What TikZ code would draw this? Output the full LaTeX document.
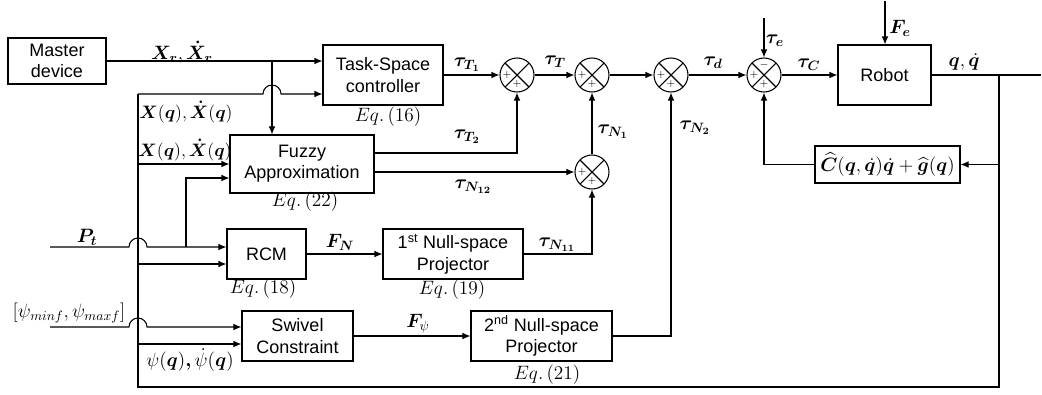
\RequirePackage{fix-cm}
\documentclass[tikz,border=0pt]{standalone}
\usepackage{amsmath}
\usepackage[no-math]{fontspec}
\setmainfont{Liberation Sans}
\usepackage{bm}
\usetikzlibrary{arrows.meta}

\begin{document}
\begin{tikzpicture}[x=0.75pt, y=-0.75pt, line width=0.8pt, font=\fontsize{13.5}{16}\selectfont,
    blk/.style={draw, align=center, inner sep=1pt},
    sum/.style={draw, circle, minimum size=25.5pt, inner sep=0pt,
        path picture={\draw (path picture bounding box.north west) -- (path picture bounding box.south east)
            (path picture bounding box.north east) -- (path picture bounding box.south west);}},
    sgn/.style={inner sep=0pt, font=\fontsize{7.5}{8}\selectfont},
    lbl/.style={inner sep=0pt, font=\fontsize{14.5}{17}\selectfont},
    arr/.style={-{Latex[length=6pt,width=5pt]}}]
    \useasboundingbox (0,0) rectangle (1042,394);

    % Draw the blocks
    \node[blk, minimum width=73.5pt, minimum height=34.5pt] (master) at (57,61) {Master\\device};
    \node[blk, minimum width=90pt, minimum height=45pt] (tsc) at (383,75) {Task-Space\\controller};
    \node[blk, minimum width=108pt, minimum height=43.5pt] (fuzzy) at (302,164) {Fuzzy\\Approximation};
    \node[blk, minimum width=59.25pt, minimum height=37.5pt] (rcm) at (266.5,254) {RCM};
    \node[blk, minimum width=105pt, minimum height=37.5pt] (nsp1) at (453,254) {1\textsuperscript{st} Null-space\\Projector};
    \node[blk, minimum width=83.25pt, minimum height=37.5pt] (swivel) at (297.5,336) {Swivel\\Constraint};
    \node[blk, minimum width=105.75pt, minimum height=37.5pt] (nsp2) at (541.5,336) {2\textsuperscript{nd} Null-space\\Projector};
    \node[blk, minimum width=69.75pt, minimum height=45pt] (robot) at (884.5,75) {Robot};
    \node[blk, minimum width=108.75pt, minimum height=27.75pt, font=\fontsize{14.5}{17}\selectfont] (comp) at (887.5,164.5) {$\widehat{\bm C}(\bm q,\dot{\bm q})\dot{\bm q}+\widehat{\bm g}(\bm q)$};

    % Equation references
    \node[lbl] (eq16) at (388,117) {$Eq.\,(16)$};
    \node[lbl] (eq22) at (305,202) {$Eq.\,(22)$};
    \node[lbl] (eq18) at (263,289) {$Eq.\,(18)$};
    \node[lbl] (eq19) at (452,290) {$Eq.\,(19)$};
    \node[lbl] (eq21) at (547,375) {$Eq.\,(21)$};

    % Draw the summing junctions
    \node[sum] (s1) at (517,75) {};
    \node[sum] (s2) at (592,75) {};
    \node[sum] (s3) at (592,172) {};
    \node[sum] (s4) at (671,75) {};
    \node[sum] (s5) at (764,75) {};

    \node[sgn] (s1l) at ([shift={(-10,0)}]s1.center) {$+$};
    \node[sgn] (s1b) at ([shift={(0,9)}]s1.center) {$+$};
    \node[sgn] (s2l) at ([shift={(-10,0)}]s2.center) {$+$};
    \node[sgn] (s2b) at ([shift={(0,9)}]s2.center) {$+$};
    \node[sgn] (s3l) at ([shift={(-10,0)}]s3.center) {$+$};
    \node[sgn] (s3b) at ([shift={(0,9)}]s3.center) {$+$};
    \node[sgn] (s4l) at ([shift={(-10,0)}]s4.center) {$+$};
    \node[sgn] (s4b) at ([shift={(0,9)}]s4.center) {$+$};
    \node[sgn] (s5l) at ([shift={(-10,0)}]s5.center) {$+$};
    \node[sgn] (s5b) at ([shift={(0,9)}]s5.center) {$+$};
    \node[sgn] (s5t) at ([shift={(0,-10)}]s5.center) {$-$};

    % Free ends and branch points
    \coordinate (jx) at (272,61);
    \coordinate (fb) at (138,94);
    \coordinate (j2) at (186,247);
    \coordinate (pt) at (50,247);
    \coordinate (psi) at (50,327);
    \coordinate (jq) at (999,75);
    \coordinate (te) at (764,18);
    \coordinate (fe) at (885,1);

    % Inputs to the task-space controller
    \draw[arr] (master.east) -- (master.east -| tsc.west);
    \draw[arr] (jx) -- (jx |- fuzzy.north);
    \draw[arr] (fb) -- (263,94) arc[start angle=180, end angle=0, radius=6.75pt] -- (fb -| tsc.west);

    % Feedback of the robot state
    \draw (jq) -- (jq |- 0,387) -| (fb);
    \draw[arr] (fb |- fuzzy.west) -- (fuzzy.west);
    \draw[arr] (j2) |- (fuzzy.west |- 0,178);
    \draw[arr] (pt) -- (129,247) arc[start angle=180, end angle=0, radius=6.75pt] -- (rcm.west |- pt);
    \draw[arr] (fb |- 0,264) -- (rcm.west |- 0,264);
    \draw[arr] (psi) -- (129,327) arc[start angle=180, end angle=0, radius=6.75pt] -- (swivel.west |- psi);
    \draw[arr] (fb |- 0,344) -- (swivel.west |- 0,344);

    % Null-space branches
    \draw[arr] (rcm.east) -- (nsp1.west);
    \draw[arr] (nsp1.east) -| (s3.south);
    \draw[arr] (swivel.east) -- (nsp2.west);
    \draw[arr] (nsp2.east) -| (s4.south);

    % Torque summation
    \draw[arr] (tsc.east) -- (s1.west);
    \draw[arr] (fuzzy.east |- 0,153) -| (s1.south);
    \draw[arr] (fuzzy.east |- s3.west) -- (s3.west);
    \draw[arr] (s1.east) -- (s2.west);
    \draw[arr] (s3.north) -- (s2.south);
    \draw[arr] (s2.east) -- (s4.west);
    \draw[arr] (s4.east) -- (s5.west);
    \draw[arr] (s5.east) -- (robot.west);
    \draw[arr] (te) -- (s5.north);
    \draw[arr] (fe) -- (fe |- robot.north);

    % Robot output and compensation loop
    \draw[line width=1.4pt] (robot.east) -- (1013,75);
    \draw (1013,75) -- (1041,75);
    \draw[arr] (jq) |- (comp.east);
    \draw[arr] (comp.west) -| (s5.south);

    % Signal labels
    \node[lbl] (Xr) at (182,52) {$\bm{X_r},\bm{\dot{X}_r}$};
    \node[lbl, font=\fontsize{13.5}{16}\selectfont] (Xq1) at (186,112) {$\bm{X}(\bm q),\bm{\dot{X}}(\bm q)$};
    \node[lbl, font=\fontsize{13.5}{16}\selectfont] (Xq2) at (185,150) {$\bm{X}(\bm q),\bm{\dot{X}}(\bm q)$};
    \node[lbl] (Pt) at (87,237) {$\bm{P_t}$};
    \node[lbl] (psilim) at (69,313) {$[\psi_{minf},\psi_{maxf}]$};
    \node[lbl] (psiq) at (190,360) {$\psi(\bm q)\bm{,}\dot\psi(\bm q)$};
    \node[lbl] (FN) at (340,242) {$\bm{F_N}$};
    \node[lbl] (Fpsi) at (418,324) {$\bm{F}_{\psi}$};
    \node[lbl] (tauN11) at (557,245) {$\bm{\tau_{N_{11}}}$};
    \node[lbl] (tauT1) at (467,65) {$\bm{\tau_{T_1}}$};
    \node[lbl] (tauT) at (555,62) {$\bm{\tau_T}$};
    \node[lbl] (tauT2) at (467,137) {$\bm{\tau_{T_2}}$};
    \node[lbl] (tauN12) at (473,187) {$\bm{\tau_{N_{12}}}$};
    \node[lbl] (tauN1) at (613,132) {$\bm{\tau_{N_1}}$};
    \node[lbl] (tauN2) at (695,128) {$\bm{\tau_{N_2}}$};
    \node[lbl] (taud) at (713,63) {$\bm{\tau_d}$};
    \node[lbl] (taue) at (775,41) {$\bm{\tau_e}$};
    \node[lbl] (tauC) at (809,65) {$\bm{\tau_C}$};
    \node[lbl] (Fe) at (900,28) {$\bm{F_e}$};
    \node[lbl] (qdq) at (964,62) {$\bm q,\dot{\bm q}$};
\end{tikzpicture}
\end{document}
